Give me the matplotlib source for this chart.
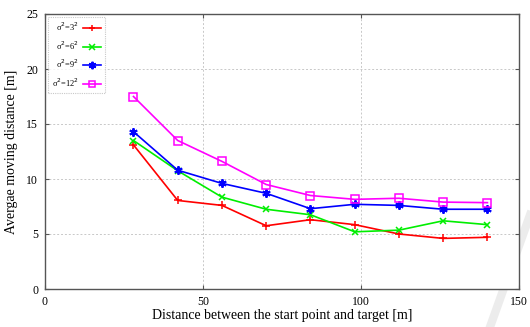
import matplotlib.pyplot as plt
from matplotlib.lines import Line2D

plt.rcParams['font.family'] = ['Liberation Serif', 'DejaVu Serif']

distance = [28, 42, 56, 70, 84, 98, 112, 126, 140]
var_3 = [13.1, 8.05, 7.6, 5.75, 6.3, 5.85, 5.0, 4.6, 4.7]
var_6 = [13.5, 10.75, 8.35, 7.25, 6.75, 5.2, 5.35, 6.2, 5.85]
var_9 = [14.3, 10.8, 9.6, 8.7, 7.3, 7.7, 7.6, 7.25, 7.25]
var_12 = [17.5, 13.5, 11.6, 9.5, 8.5, 8.15, 8.25, 7.9, 7.85]

labels = ['σ$^2$=3$^2$', 'σ$^2$=6$^2$', 'σ$^2$=9$^2$', 'σ$^2$=12$^2$']

fig = plt.figure(figsize=(5.3, 3.27), dpi=100)
ax = fig.add_axes([45/530, 1 - 289/327, 474/530, 275/327])

ax.plot(distance, var_3, color='#ff0000', marker='+', ms=5.5, mew=1.1, lw=1.2, label=labels[0])
ax.plot(distance, var_6, color='#00ee00', marker='x', ms=4.5, mew=1.1, lw=1.2, label=labels[1])
ax.plot(distance, var_9, color='#0000ff', marker=(6, 2, 0), ms=6, mew=1.4, lw=1.2, label=labels[2])
ax.plot(distance, var_12, color='#ff00ff', marker='s', fillstyle='none', ms=5.5, mew=1.1, lw=1.2, label=labels[3])

ax.set_xlim(0, 150)
ax.set_ylim(0, 25)
ax.set_xticks([0, 50, 100, 150])
ax.set_yticks([0, 5, 10, 15, 20, 25])
ax.grid(True, color='#c8c8c8', linestyle=(0, (2, 2)), lw=0.7)
ax.tick_params(direction='in', length=3, labelsize=8.5, top=True, right=True, color='#555555', pad=5)
for s in ax.spines.values():
    s.set_color('#555555')
    s.set_linewidth(1.0)

ax.set_xlabel('Distance between the start point and target [m]', fontsize=10, labelpad=1)
ax.set_ylabel('Avergae moving distance [m]', fontsize=10, labelpad=6)

leg = ax.legend(loc='upper left', markerfirst=False, fontsize=6, frameon=True,
                fancybox=False, handlelength=2.2, handletextpad=0.5, borderaxespad=0.3,
                labelspacing=0.75, borderpad=0.5, markerscale=0.9)
leg.get_frame().set_edgecolor('#bbbbbb')
leg.get_frame().set_linestyle((0, (1, 1)))
leg.get_frame().set_linewidth(0.8)

# faint watermark stripe from the source page
fig.add_artist(Line2D([530/530, 490/530], [1 - 215/327, 1 - 327/327], color='#ececec', lw=6,
                      transform=fig.transFigure, zorder=-1))

fig.savefig('out.png', dpi=100)
